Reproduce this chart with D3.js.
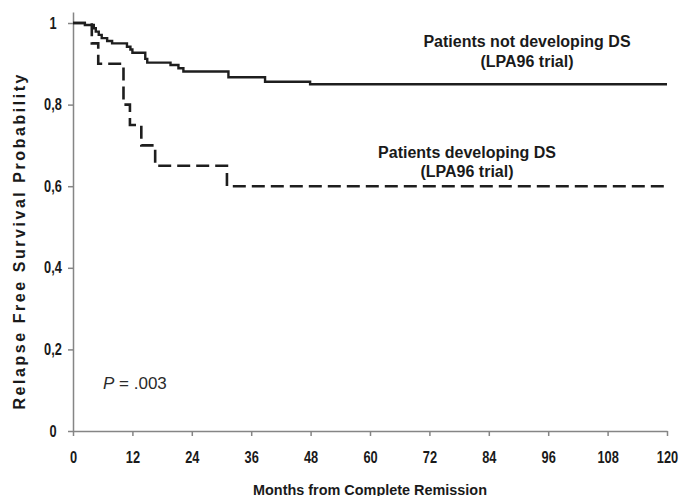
<!DOCTYPE html>
<html>
<head>
<meta charset="utf-8">
<script src="https://cdn.jsdelivr.net/npm/d3@7"></script>
<style>
  html, body { margin: 0; padding: 0; background: #fff; }
  svg { display: block; }
  .narrow { font-family: "Liberation Sans", Arial, sans-serif; font-weight: bold; }
  .label { font-family: "Liberation Sans", Arial, sans-serif; font-weight: bold; }
</style>
</head>
<body>
<svg id="chart" width="679" height="496"></svg>
<script>
// Kaplan-Meier relapse-free survival, step points (month, probability)
const notDevelopingMonths = [0, 2.4, 4.2, 4.6, 5.2, 5.8, 6.9, 7.9, 10.9, 11.6, 12.0, 14.6, 15.0, 19.7, 21.3, 22.3, 31.4, 38.8, 47.9, 120];
const notDevelopingSurv   = [1.0, 0.995, 0.987, 0.979, 0.971, 0.963, 0.956, 0.950, 0.942, 0.935, 0.927, 0.912, 0.903, 0.897, 0.889, 0.881, 0.867, 0.856, 0.850, 0.850];

const developingMonths = [0, 3.8, 5.1, 10.2, 11.5, 13.8, 16.6, 31.1, 120];
const developingSurv   = [1.0, 0.95, 0.90, 0.80, 0.75, 0.70, 0.65, 0.60, 0.60];

const xTicks = [0, 12, 24, 36, 48, 60, 72, 84, 96, 108, 120];
const yTicks = [0, 0.2, 0.4, 0.6, 0.8, 1];
const yTickLabels = ["0", "0,2", "0,4", "0,6", "0,8", "1"];

const svg = d3.select("#chart");

const x = d3.scaleLinear().domain([0, 120]).range([73, 667]);
const y = d3.scaleLinear().domain([0, 1.027]).range([431, 12]);

const axisColor = "#858585";
const squeeze = 0.8; // condensed look for axis numbers

// x axis
const gx = svg.append("g")
  .attr("transform", `translate(0,${y(0)})`)
  .call(d3.axisBottom(x).tickValues(xTicks).tickSize(5).tickSizeOuter(0).tickPadding(16));
gx.select(".domain").attr("stroke", axisColor).attr("stroke-width", 1.5);
gx.selectAll(".tick line").attr("stroke", axisColor).attr("stroke-width", 1.5);
gx.selectAll(".tick text")
  .attr("class", "narrow")
  .attr("font-size", 16)
  .attr("fill", "#1a1a1a")
  .attr("transform", `scale(${squeeze},1)`);

// y axis
const gy = svg.append("g")
  .attr("transform", `translate(${x(0)},0)`)
  .call(d3.axisLeft(y).tickValues(yTicks).tickSize(5).tickSizeOuter(0)
    .tickFormat((d, i) => yTickLabels[i]));
gy.select(".domain").attr("stroke", axisColor).attr("stroke-width", 1.5);
gy.selectAll(".tick line").attr("stroke", axisColor).attr("stroke-width", 1.5);
gy.selectAll(".tick text")
  .attr("class", "narrow")
  .attr("font-size", 16)
  .attr("fill", "#1a1a1a")
  .attr("text-anchor", "middle")
  .attr("x", -20 / squeeze)
  .attr("transform", `scale(${squeeze},1)`);

// survival curves
const line = d3.line()
  .x(d => x(d[0]))
  .y(d => y(d[1]))
  .curve(d3.curveStepAfter);

svg.append("path")
  .datum(d3.zip(notDevelopingMonths, notDevelopingSurv))
  .attr("fill", "none")
  .attr("stroke", "#1e1e1e")
  .attr("stroke-width", 2.4)
  .attr("d", line);

svg.append("path")
  .datum(d3.zip(developingMonths, developingSurv))
  .attr("fill", "none")
  .attr("stroke", "#1e1e1e")
  .attr("stroke-width", 2.6)
  .attr("stroke-dasharray", "13,6")
  .attr("d", line);

// curve labels
function twoLine(cx, y1, y2, l1, l2) {
  svg.append("text").attr("class", "label").attr("font-size", 16)
    .attr("fill", "#1a1a1a").attr("text-anchor", "middle")
    .attr("x", cx).attr("y", y1).text(l1);
  svg.append("text").attr("class", "label").attr("font-size", 16)
    .attr("fill", "#1a1a1a").attr("text-anchor", "middle")
    .attr("x", cx).attr("y", y2).text(l2);
}
twoLine(527, 47, 67, "Patients not developing DS", "(LPA96 trial)");
twoLine(467, 158, 177, "Patients developing DS", "(LPA96 trial)");

// p-value
const p = svg.append("text")
  .attr("font-family", "'Liberation Sans', Arial, sans-serif")
  .attr("font-size", 17)
  .attr("fill", "#2a2a2a")
  .attr("x", 103).attr("y", 389);
p.append("tspan").attr("font-style", "italic").text("P");
p.append("tspan").text(" = .003");

// axis titles
svg.append("text")
  .attr("class", "narrow")
  .attr("font-size", 15)
  .attr("fill", "#1a1a1a")
  .attr("text-anchor", "middle")
  .attr("x", 370).attr("y", 495)
  .attr("textLength", 234)
  .attr("lengthAdjust", "spacingAndGlyphs")
  .text("Months from Complete Remission");

svg.append("text")
  .attr("class", "label")
  .attr("font-size", 16)
  .attr("fill", "#1a1a1a")
  .attr("text-anchor", "middle")
  .attr("textLength", 335)
  .attr("lengthAdjust", "spacing")
  .attr("transform", "translate(25,242) rotate(-90)")
  .text("Relapse Free Survival Probability");
</script>
</body>
</html>
